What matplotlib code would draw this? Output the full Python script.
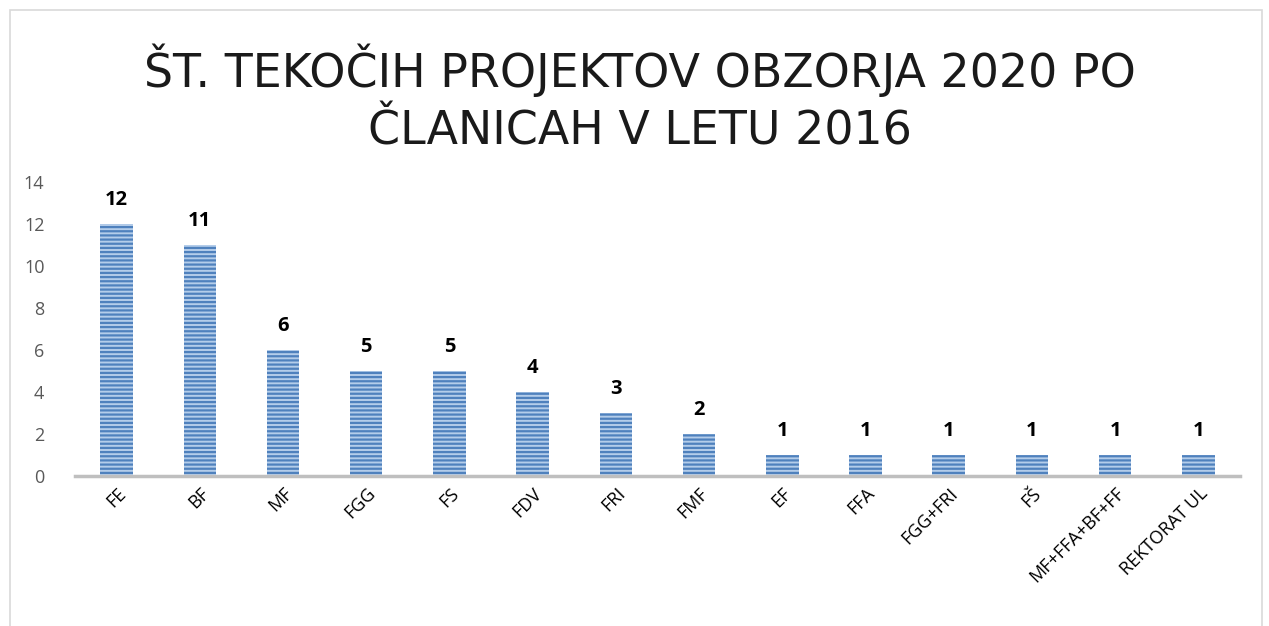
import matplotlib
matplotlib.use("Agg")
import matplotlib.pyplot as plt
from matplotlib.patches import Rectangle

"""Data"""
units = ["FE", "BF", "MF", "FGG", "FS", "FDV", "FRI", "FMF", "EF", "FFA",
         "FGG+FRI", "FŠ", "MF+FFA+BF+FF", "REKTORAT UL"]
projects = [12, 11, 6, 5, 5, 4, 3, 2, 1, 1, 1, 1, 1, 1]

title = "ŠT. TEKOČIH PROJEKTOV OBZORJA 2020 PO\nČLANICAH V LETU 2016"

plt.rcParams["font.family"] = ["Open Sans", "DejaVu Sans"]
plt.rcParams["hatch.linewidth"] = 1.6

fig = plt.figure(figsize=(12.69, 6.26), dpi=100)
ax = fig.add_axes([0.0591, 0.2396, 0.918, 0.4696])

x = range(len(units))
bars = ax.bar(x, projects, width=0.39, color="#B4CDEA", edgecolor="#4F81BD",
              linewidth=0, hatch="----")

for xi, v in zip(x, projects):
    ax.text(xi, v + 0.65, str(v), ha="center", va="bottom",
            fontsize=14.5, fontweight="bold", color="black")

ax.set_ylim(0, 14)
ax.set_xlim(-0.5, len(units) - 0.5)
ax.set_yticks(range(0, 15, 2))
ax.tick_params(axis="y", length=0, labelsize=13, labelcolor="#595959", pad=22)
ax.tick_params(axis="x", length=0, labelsize=13, labelcolor="black", pad=6)
ax.set_xticks(list(x))
ax.set_xticklabels(units, rotation=45, ha="right", rotation_mode="anchor")

for s in ["top", "right", "left"]:
    ax.spines[s].set_visible(False)
ax.spines["bottom"].set_color("#BFBFBF")
ax.spines["bottom"].set_linewidth(2.5)

fig.text(0.504, 0.842, title, ha="center", va="center", fontsize=33,
         family="DejaVu Sans", fontweight="normal", color="#1a1a1a",
         linespacing=1.35)

# chart border
fig.patches.append(Rectangle((10 / 1269, -0.01), 1252 / 1269, 1.01 - 10 / 626,
                             transform=fig.transFigure, fill=False,
                             edgecolor="#D9D9D9", linewidth=1.2))

fig.savefig("out.png", dpi=100)
